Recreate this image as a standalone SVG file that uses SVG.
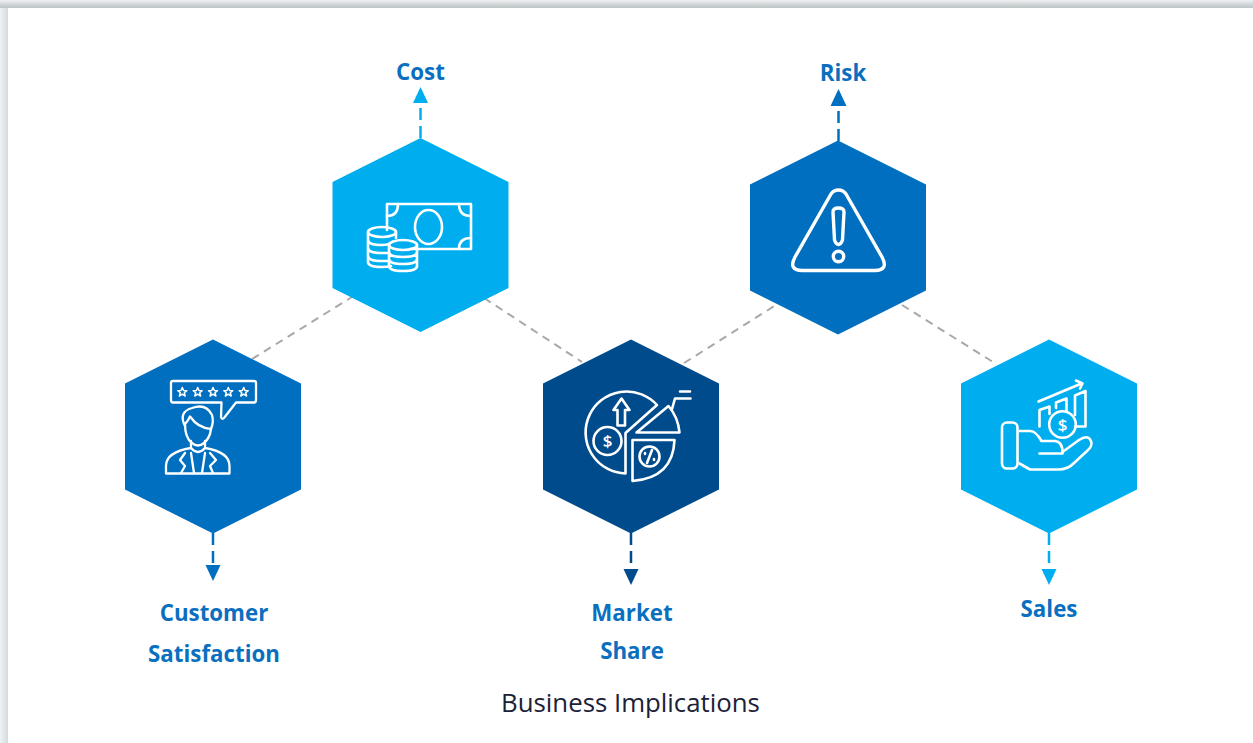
<svg xmlns="http://www.w3.org/2000/svg" width="1253" height="743" viewBox="0 0 1253 743">
<style>
.lbl{font-family:"Open Sans","Liberation Sans",sans-serif;font-weight:700;font-size:22.300px;fill:#0b6fc0;text-anchor:middle}
.cap{font-family:"Open Sans","Liberation Sans",sans-serif;font-size:25.800px;fill:#1a2238;text-anchor:middle}
.ic{fill:none;stroke:#fff;stroke-width:2.600;stroke-linejoin:round;stroke-linecap:round}
.ds{font-family:"Open Sans","Liberation Sans",sans-serif;font-weight:600;font-size:17px;fill:#fff;text-anchor:middle}
.link{fill:none;stroke:#a8a8a8;stroke-width:2;stroke-dasharray:8 6}
.cy{fill:#00aeef}.bl{fill:#006fc0}.nv{fill:#004b8c}
.stem{fill:none;stroke-width:2.500;stroke-dasharray:12 6}
</style>
<defs>
<linearGradient id="t" x1="0" y1="0" x2="0" y2="1"><stop offset="0" stop-color="#eef1f2"/><stop offset="0.7" stop-color="#c9cfd1"/><stop offset="1" stop-color="#bfc6c8"/></linearGradient>
<linearGradient id="l" x1="0" y1="0" x2="1" y2="0"><stop offset="0" stop-color="#eef2f4"/><stop offset="1" stop-color="#d3dade"/></linearGradient>
<polygon id="hex" points="0,-97 88,-53 88,53 0,97 -88,53 -88,-53"/>
<polygon id="star" points="0,-4.500 1.300,-1.500 4.500,-1.300 2,0.800 2.900,4 0,2.200 -2.900,4 -2,0.800 -4.500,-1.300 -1.300,-1.500"/>
</defs>
<rect width="1253" height="743" fill="#fff"/>
<rect x="0" y="0" width="8" height="743" fill="url(#l)"/>
<rect x="0" y="0" width="1253" height="8" fill="url(#t)"/>

<g id="connectors">
<path class="link" d="M252,359L352,297"/>
<path class="link" d="M484,298L582,362"/>
<path class="link" d="M684,363L776,305"/>
<path class="link" d="M902,305L993,362"/>
<path class="stem" stroke="#00aeef" d="M420.500,138V105"/>
<polygon class="cy" points="420.500,87 428,103 413,103"/>
<path class="stem" stroke="#006fc0" d="M838.500,141V108"/>
<polygon class="bl" points="838.500,89 846.500,106 830.500,106"/>
<path class="stem" stroke="#006fc0" d="M213,533V564"/>
<polygon class="bl" points="213,581 205.500,565 220.500,565"/>
<path class="stem" stroke="#004b8c" d="M631,533V568"/>
<polygon class="nv" points="631,585 623.500,569 638.500,569"/>
<path class="stem" stroke="#00aeef" d="M1049,533V568"/>
<polygon class="cy" points="1049,585 1041.500,569 1056.500,569"/>
</g>

<g id="node-cost">
<use href="#hex" class="cy" x="420.500" y="235"/>
<g class="ic">
<path d="M387,230V204H471V249H410"/>
<ellipse cx="428.500" cy="227" rx="13.500" ry="17"/>
<path d="M387,216Q398,216 398,204M459,204Q459,216 471,216M459,249Q459,238 471,238"/>
<ellipse cx="382" cy="232" rx="14" ry="5"/>
<path d="M368,232V262Q368,267 382,267Q388,267 391,266M368,240Q368,245 382,245Q386,245 389,244M368,248Q368,253 382,253H389M368,256Q368,261 382,261H389M396,232V238"/>
<ellipse cx="403" cy="245" rx="14" ry="5"/>
<path d="M389,245V266Q389,271 403,271T417,266V245M389,252Q389,257 403,257T417,252M389,259Q389,264 403,264T417,259"/>
</g>
</g>

<g id="node-risk">
<use href="#hex" class="bl" x="838" y="237.500"/>
<g class="ic" style="stroke-width:3.400">
<path d="M831,194A9,9 0 0 1 846,194L882,257Q889,270 875,270.500H802Q788,270 795,257Z"/>
<path d="M833,212Q833,208 838.500,208T844,212L842.500,240Q841,244.500 838.500,244.500T834.500,240Z"/>
<circle cx="838.500" cy="256.500" r="5.200"/>
</g>
</g>

<g id="node-customer">
<use href="#hex" class="bl" x="213" y="436.500"/>
<g class="ic" style="stroke-width:2.300">
<path d="M173,381H254Q256,381 256,383V400Q256,402.500 254,402.500H236L224,418Q222,420 221,417L221.500,402.500H173Q171,402.500 171,400V383Q171,381 173,381Z"/>
<g style="stroke-width:1.500"><use href="#star" x="182.300" y="392"/><use href="#star" x="197.700" y="392"/><use href="#star" x="213" y="392"/><use href="#star" x="228.300" y="392"/><use href="#star" x="243.700" y="392"/></g>
<path d="M185,426Q178,412 192,408Q206,403 212,415Q214,422 211,429"/>
<path d="M185,424Q188,421 190,416.500Q198,428 211,429"/>
<path d="M185,424Q185,438 192,443Q198,448 204,443Q210,438 211,429"/>
<path d="M191,441V448Q198,456 205,448V441"/>
<path d="M191,448Q166,452 166,466V473.500H229.500V466Q229.500,452 205,448"/>
<path d="M185,453L180,460L185,466L181,473M210,453L216,460L210,466L213,473M191,453L194,473M205,453L202,473"/>
</g>
</g>

<g id="node-market">
<use href="#hex" class="nv" x="631" y="436.500"/>
<g class="ic">
<path d="M657,405A41,41 0 1 0 625.500,473.500V433Z"/>
<path d="M636.500,432.500L668.500,406Q678,417 679.500,432.500Z"/>
<path d="M672,409L675,398.500H690.500M680,391.500H690"/>
<path d="M632.500,440H674.500Q673,478 632.500,481Z"/>
<circle cx="649.500" cy="456.500" r="10"/>
<path d="M652,450L647,463M645,453V454M654,459V460"/>
<path d="M621.500,398.500L629.500,410H625V425.500H617.500V410H613.500Z"/>
<circle cx="607.500" cy="441" r="14"/>
</g>
<text class="ds" x="607.500" y="447">$</text>
</g>

<g id="node-sales">
<use href="#hex" class="cy" x="1049" y="436.500"/>
<g class="ic">
<rect x="1002" y="422.500" width="15.500" height="46" rx="5"/>
<path d="M1019.500,431H1030Q1036,431 1041.500,441H1055Q1063,442 1062.500,453.500H1039.500"/>
<path d="M1062.500,452L1079,440Q1088,434 1091,441Q1093,446 1087,451L1074,463Q1068,469.500 1058,469.500H1030L1019.500,463.500"/>
<circle cx="1062.500" cy="424.500" r="13.300"/>
<path d="M1039.500,426.500V410L1049.500,406.500V414M1056,408V402.500L1066.500,398.500V411M1075,415V395.500L1085.500,391V426.500H1075"/>
<path d="M1038.500,401.500L1081.500,383.500M1076,380.500L1082.500,383.500L1080,388.500"/>
</g>
<text class="ds" x="1062.500" y="430.500">$</text>
</g>

<g id="labels">
<text class="lbl" x="420.500" y="79.700">Cost</text>
<text class="lbl" x="843" y="80.700">Risk</text>
<text class="lbl" x="214" y="620.500">Customer</text>
<text class="lbl" x="214" y="661.500">Satisfaction</text>
<text class="lbl" x="632" y="620.500">Market</text>
<text class="lbl" x="632" y="658.500">Share</text>
<text class="lbl" x="1049" y="616.500">Sales</text>
<text class="cap" x="630.500" y="712">Business Implications</text>
</g>
</svg>
